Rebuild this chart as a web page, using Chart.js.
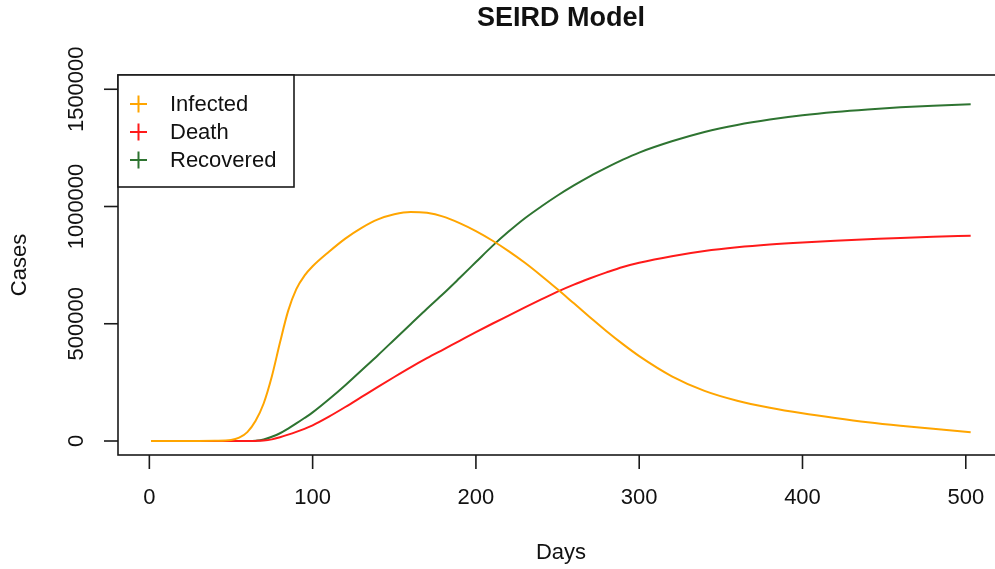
<!DOCTYPE html>
<html>
<head>
<meta charset="utf-8">
<script src="https://cdn.jsdelivr.net/npm/chart.js@4.4.0/dist/chart.umd.min.js"></script>
<style>
  html, body { margin: 0; padding: 0; background: #fff; }
</style>
</head>
<body>
<canvas id="seird" width="995" height="569" style="width:995px;height:569px"></canvas>
<script>
// values
const days = [1, 10, 20, 30, 40, 50, 55, 60, 65, 70, 75, 80, 85, 90, 95, 100, 110, 120, 130, 140,
  150, 160, 170, 180, 190, 200, 210, 220, 230, 240, 250, 260, 270, 280, 290, 300, 320, 340, 360, 380,
  400, 420, 440, 460, 480, 503];

const infected = [0, 0, 0, 0, 700, 4000, 14000, 38000, 85000, 160000, 275000, 420000, 555000, 648000, 705000, 745000, 807000, 863000, 909000, 945000,
  967000, 977000, 973000, 957000, 929000, 895000, 855000, 810000, 760000, 705000, 647000, 587000, 527000, 468000, 413000, 362000, 276000, 214000, 172000, 142000,
  118000, 98000, 80000, 65000, 52000, 37000];

const death = [0, 0, 0, 0, 0, 0, 0, 0, 500, 2000, 7000, 16000, 27000, 39000, 52000, 67000, 104000, 145000, 188000, 231000,
  273000, 314000, 353000, 390000, 427000, 464000, 500000, 535000, 570000, 604000, 637000, 667000, 694000, 719000, 742000, 760000, 788000, 810000, 826000, 838000,
  847000, 854000, 860000, 866000, 871000, 875000];

const recovered = [0, 0, 0, 0, 0, 0, 0, 0, 1000, 6000, 18000, 33000, 53000, 75000, 98000, 122000, 178000, 238000, 302000, 366000,
  432000, 498000, 564000, 628000, 695000, 763000, 831000, 893000, 950000, 1000000, 1047000, 1090000, 1130000, 1166000, 1200000, 1230000, 1278000, 1318000, 1348000, 1371000,
  1389000, 1403000, 1414000, 1423000, 1430000, 1436000];

const xTicks = [0, 100, 200, 300, 400, 500];
const yTicks = [0, 500000, 1000000, 1500000];

const seriesNames = ['Infected', 'Death', 'Recovered'];
const seriesColors = ['#FFA500', '#FF1A1A', '#2E7431'];

const FONT = 'Liberation Sans, Arial, Helvetica, sans-serif';

function pts(vals) {
  return days.map((d, i) => ({ x: d, y: vals[i] }));
}

// R style box, axes, titles and legend
const rBase = {
  id: 'rBase',
  afterDraw(chart) {
    const { ctx, chartArea: a, scales: { x, y } } = chart;
    ctx.save();
    ctx.strokeStyle = '#1a1a1a';
    ctx.lineWidth = 1.6;
    ctx.strokeRect(a.left, a.top, a.right - a.left + 20, a.bottom - a.top);

    ctx.fillStyle = '#111';
    ctx.font = '22px ' + FONT;
    ctx.textAlign = 'center';
    ctx.textBaseline = 'middle';
    xTicks.forEach(v => {
      const px = x.getPixelForValue(v);
      ctx.beginPath();
      ctx.moveTo(px, a.bottom);
      ctx.lineTo(px, a.bottom + 14);
      ctx.stroke();
      ctx.fillText(String(v), px, 498);
    });
    yTicks.forEach(v => {
      const py = y.getPixelForValue(v);
      ctx.beginPath();
      ctx.moveTo(a.left - 14, py);
      ctx.lineTo(a.left, py);
      ctx.stroke();
      ctx.save();
      ctx.translate(77, py);
      ctx.rotate(-Math.PI / 2);
      ctx.fillText(String(v), 0, 0);
      ctx.restore();
    });

    // axis titles
    const cx = 561, cy = (a.top + a.bottom) / 2;
    ctx.fillText('Days', cx, 553);
    ctx.save();
    ctx.translate(20, cy);
    ctx.rotate(-Math.PI / 2);
    ctx.fillText('Cases', 0, 0);
    ctx.restore();

    ctx.font = 'bold 27px ' + FONT;
    ctx.fillText('SEIRD Model', cx, 19);

    // legend
    ctx.fillStyle = '#fff';
    ctx.fillRect(a.left, a.top, 176, 112);
    ctx.strokeRect(a.left, a.top, 176, 112);
    ctx.font = '22px ' + FONT;
    ctx.textAlign = 'left';
    seriesNames.forEach((n, i) => {
      const ly = 104 + i * 28;
      ctx.strokeStyle = seriesColors[i];
      ctx.lineWidth = 2;
      ctx.beginPath();
      ctx.moveTo(130, ly); ctx.lineTo(147, ly);
      ctx.moveTo(138.5, ly - 8.5); ctx.lineTo(138.5, ly + 8.5);
      ctx.stroke();
      ctx.fillStyle = '#111';
      ctx.fillText(n, 170, ly + 1);
    });
    ctx.restore();
  }
};

new Chart(document.getElementById('seird'), {
  type: 'line',
  data: {
    datasets: [
      { label: seriesNames[0], data: pts(infected), borderColor: seriesColors[0] },
      { label: seriesNames[1], data: pts(death), borderColor: seriesColors[1] },
      { label: seriesNames[2], data: pts(recovered), borderColor: seriesColors[2] }
    ]
  },
  options: {
    responsive: false,
    animation: false,
    layout: { padding: { left: 118, top: 75, right: 0, bottom: 114 } },
    elements: {
      point: { radius: 0 },
      line: { borderWidth: 2, cubicInterpolationMode: 'monotone', fill: false }
    },
    scales: {
      x: { type: 'linear', min: -19.2, max: 517.9, display: false },
      y: { type: 'linear', min: -59700, max: 1560800, display: false }
    },
    plugins: {
      legend: { display: false },
      tooltip: { enabled: false }
    }
  },
  plugins: [rBase]
});
</script>
</body>
</html>
